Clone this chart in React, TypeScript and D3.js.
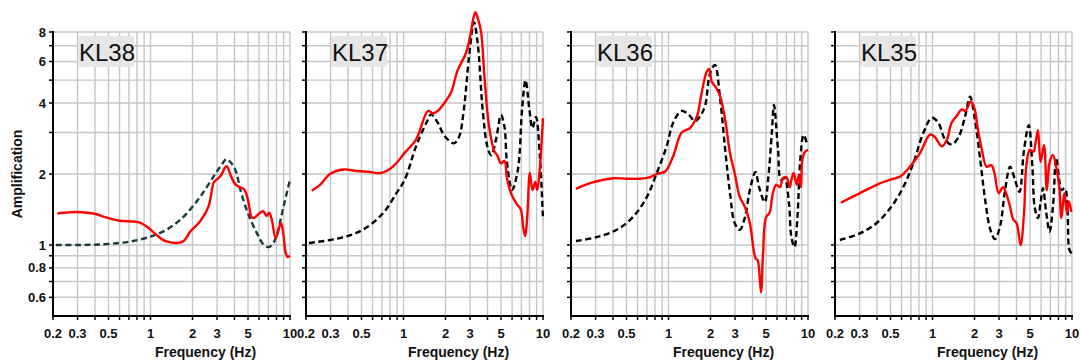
import React from 'react';
import * as d3 from 'd3';

type Pt = [number, number];

const stations = ['KL38', 'KL37', 'KL36', 'KL35'];

const xGrid = [0.2, 0.3, 0.4, 0.5, 0.6, 0.7, 0.8, 0.9, 1, 2, 3, 4, 5, 6, 7, 8, 9, 10];
const xLabels = [0.2, 0.3, 0.5, 1, 2, 3, 5, 10];
const yGrid = [0.6, 0.7, 0.8, 0.9, 1, 2, 3, 4, 5, 6, 7, 8];
const yLabels = [0.6, 0.8, 1, 2, 4, 6, 8];

// observed (red) amplification
const kl38Obs: Pt[] = [[0.215,1.36],[0.295,1.38],[0.39,1.36],[0.48,1.31],[0.59,1.27],[0.84,1.245],[0.97,1.18],[1.11,1.1],[1.27,1.04],[1.55,1.02],[1.73,1.04],[1.93,1.14],[2.27,1.26],[2.61,1.46],[2.84,1.84],[3.0,1.9],[3.2,1.97],[3.4,2.12],[3.52,2.16],[3.7,2.02],[3.95,1.85],[4.2,1.78],[4.7,1.72],[5.0,1.55],[5.4,1.3],[6.4,1.39],[6.8,1.33],[7.1,1.37],[7.4,1.28],[7.9,1.07],[8.6,1.24],[8.9,1.15],[9.3,0.93],[9.6,0.89],[10,0.9]];
const kl37Obs: Pt[] = [[0.22,1.7],[0.252,1.8],[0.297,2.0],[0.37,2.09],[0.46,2.06],[0.573,2.04],[0.69,2.02],[0.84,2.15],[1.02,2.46],[1.23,2.8],[1.5,3.7],[1.62,3.62],[1.76,3.7],[2.02,4.1],[2.2,4.45],[2.44,5.5],[2.8,6.5],[3.03,7.9],[3.15,9.0],[3.27,9.7],[3.4,9.2],[3.6,8.0],[3.8,5.2],[4.1,3.2],[4.48,2.5],[4.7,2.4],[5.0,2.22],[5.3,2.27],[5.5,1.94],[5.89,1.66],[6.4,1.51],[6.94,1.41],[7.2,1.2],[7.45,1.09],[7.7,1.3],[8.05,2.02],[8.4,1.71],[8.8,1.85],[9.1,1.71],[9.5,2.14],[10,3.45]];
const kl36Obs: Pt[] = [[0.217,1.73],[0.274,1.83],[0.341,1.89],[0.403,1.92],[0.502,1.91],[0.626,1.91],[0.738,1.94],[0.824,2.0],[0.946,2.05],[1.08,2.38],[1.24,2.99],[1.43,3.14],[1.6,3.52],[1.73,4.43],[1.88,5.43],[1.96,5.57],[2.04,4.93],[2.2,4.63],[2.35,4.25],[2.55,3.39],[2.76,2.45],[2.98,2.02],[3.24,1.6],[3.53,1.45],[3.83,1.24],[4.2,0.88],[4.36,0.86],[4.6,0.63],[4.75,0.89],[5.0,1.31],[5.3,1.37],[5.6,1.66],[5.9,1.8],[6.3,1.76],[6.6,1.92],[7.0,1.94],[7.4,1.76],[7.6,1.89],[7.9,2.02],[8.3,1.8],[8.6,1.98],[8.9,1.76],[9.1,2.29],[9.5,2.48],[10,2.53]];
const kl35Obs: Pt[] = [[0.22,1.51],[0.302,1.66],[0.398,1.8],[0.496,1.89],[0.586,1.95],[0.69,2.15],[0.815,2.46],[0.96,2.94],[1.04,2.87],[1.17,2.62],[1.27,2.8],[1.37,3.3],[1.49,3.52],[1.62,3.76],[1.71,3.7],[1.89,4.05],[2.0,3.8],[2.1,3.17],[2.26,2.53],[2.44,2.15],[2.64,2.18],[2.78,2.02],[2.98,1.66],[3.2,1.76],[3.4,1.63],[3.57,1.48],[3.8,1.28],[4.0,1.24],[4.28,1.0],[4.53,1.37],[4.7,2.15],[4.98,2.53],[5.3,2.49],[5.47,2.7],[5.7,3.07],[5.95,2.25],[6.3,2.65],[6.6,1.71],[6.9,2.23],[7.3,2.41],[7.7,2.15],[8.1,1.77],[8.4,1.3],[8.8,1.66],[9.2,1.37],[9.5,1.53],[9.9,1.38]];

// theoretical (dashed) amplification
const kl38Model: Pt[] = [[0.21,1.0],[0.3,1.0],[0.43,1.005],[0.6,1.02],[0.75,1.04],[1.0,1.085],[1.3,1.16],[1.73,1.32],[2.27,1.6],[2.83,1.95],[3.2,2.17],[3.5,2.31],[3.8,2.22],[4.1,2.05],[4.4,1.72],[5.0,1.36],[5.8,1.12],[6.5,1.0],[7.05,0.98],[7.6,1.02],[8.1,1.12],[9.0,1.46],[10,1.89]];
const kl37Model: Pt[] = [[0.21,1.02],[0.35,1.07],[0.51,1.16],[0.71,1.36],[0.89,1.66],[1.02,1.89],[1.23,2.62],[1.46,3.3],[1.58,3.58],[1.76,3.3],[1.97,2.9],[2.3,2.7],[2.5,2.87],[2.7,3.7],[2.96,6.4],[3.2,8.8],[3.4,7.2],[3.7,3.7],[4.0,2.6],[4.25,2.4],[4.6,2.79],[5.0,3.56],[5.3,3.16],[5.5,2.29],[6.0,1.71],[6.6,2.08],[7.1,3.85],[7.5,5.0],[8.0,3.73],[8.4,3.13],[8.9,3.49],[9.5,2.36],[10,1.28]];
const kl36Model: Pt[] = [[0.217,1.04],[0.305,1.08],[0.425,1.16],[0.56,1.32],[0.7,1.6],[0.824,2.02],[0.97,2.62],[1.08,3.3],[1.24,3.7],[1.39,3.58],[1.55,3.35],[1.7,3.55],[1.83,3.9],[1.98,5.3],[2.15,5.8],[2.35,4.12],[2.55,2.53],[2.76,1.66],[2.98,1.24],[3.24,1.16],[3.53,1.31],[3.83,1.71],[4.2,2.04],[4.46,1.76],[4.9,1.52],[5.2,1.94],[5.5,2.98],[5.7,3.92],[6.1,2.53],[6.4,1.89],[6.8,1.92],[7.3,1.51],[7.6,1.08],[8.0,0.98],[8.4,1.31],[8.8,2.29],[9.3,2.93],[9.9,2.65]];
const kl35Model: Pt[] = [[0.217,1.05],[0.302,1.12],[0.398,1.24],[0.51,1.46],[0.62,1.77],[0.73,2.23],[0.86,2.99],[0.99,3.46],[1.1,3.3],[1.23,2.8],[1.37,2.67],[1.53,2.85],[1.71,3.5],[1.86,4.25],[2.0,3.5],[2.2,2.29],[2.4,1.51],[2.6,1.16],[2.8,1.06],[3.05,1.2],[3.3,1.68],[3.6,2.15],[3.9,1.89],[4.2,1.68],[4.53,2.53],[4.9,3.22],[5.2,2.15],[5.4,1.45],[5.7,1.3],[5.95,1.51],[6.2,1.74],[6.5,1.41],[6.9,1.14],[7.3,1.45],[7.7,2.34],[8.1,1.89],[8.4,1.71],[8.9,1.74],[9.3,1.37],[9.6,0.95],[10,0.92]];

const observed = [kl38Obs, kl37Obs, kl36Obs, kl35Obs];
const models = [kl38Model, kl37Model, kl36Model, kl35Model];
const modelColors = ['#1b3c3c', '#000000', '#000000', '#000000'];

const panelLefts = [53, 306, 571, 835];
const PW = 237;
const TOP = 32;
const BOTTOM = 316;
const FONT = 'Arial, "Liberation Sans", Helvetica, sans-serif';

function Panel({ idx }: { idx: number }) {
  const left = panelLefts[idx];
  const x = d3.scaleLog().domain([0.2, 10]).range([left, left + PW]);
  const y = d3.scaleLog().domain([0.5, 8]).range([BOTTOM, TOP]);
  const line = d3
    .line<Pt>()
    .x((d) => x(d[0]))
    .y((d) => y(d[1]))
    .curve(d3.curveCatmullRom.alpha(0.5));
  const gridColor = '#c6c6c6';
  return (
    <g>
      {xGrid.map((v) => (
        <line key={'xg' + v} x1={x(v)} x2={x(v)} y1={TOP} y2={BOTTOM} stroke={gridColor} strokeWidth={1.4} />
      ))}
      {yGrid.map((v) => (
        <line key={'yg' + v} x1={left} x2={left + PW} y1={y(v)} y2={y(v)} stroke={gridColor} strokeWidth={1.4} />
      ))}
      <rect x={left + 25} y={36} width={56} height={31} fill="#e6e6e6" />
      <text x={left + 26} y={61} fontFamily={FONT} fontSize={24} fill="#111">
        {stations[idx]}
      </text>
      {/* axes */}
      <line x1={left} x2={left} y1={TOP - 1} y2={BOTTOM + 1} stroke="#000" strokeWidth={2} />
      <line x1={left - 1} x2={left + PW + 1} y1={BOTTOM} y2={BOTTOM} stroke="#000" strokeWidth={2} />
      {yGrid.map((v) => (
        <line key={'yt' + v} x1={left - 4} x2={left} y1={y(v)} y2={y(v)} stroke="#000" strokeWidth={1.5} />
      ))}
      {xGrid.map((v) => (
        <line key={'xt' + v} x1={x(v)} x2={x(v)} y1={BOTTOM} y2={BOTTOM + 4} stroke="#000" strokeWidth={1.5} />
      ))}
      {idx === 0 &&
        yLabels.map((v) => (
          <text key={'yl' + v} x={left - 7} y={y(v) + 4.5} textAnchor="end" fontFamily={FONT} fontWeight="bold" fontSize={13} fill="#111">
            {String(v)}
          </text>
        ))}
      {xLabels.map((v) => (
        <text key={'xl' + v} x={x(v)} y={338} textAnchor="middle" fontFamily={FONT} fontWeight="bold" fontSize={13} fill="#111">
          {String(v)}
        </text>
      ))}
      <text x={left + PW / 2 + 34} y={357} textAnchor="middle" fontFamily={FONT} fontWeight="bold" fontSize={14} fill="#111">
        Frequency (Hz)
      </text>
      <path d={line(models[idx]) || ''} fill="none" stroke={modelColors[idx]} strokeWidth={2.4} strokeDasharray="6,3.5" />
      <path d={line(observed[idx]) || ''} fill="none" stroke="#ff0000" strokeWidth={2.4} strokeLinejoin="round" />
    </g>
  );
}

export default function App() {
  return (
    <svg width={1081} height={362} style={{ position: 'absolute', left: 0, top: 0, background: '#fff' }}>
      <rect x={0} y={0} width={1081} height={362} fill="#fff" />
      {stations.map((s, i) => (
        <Panel key={s} idx={i} />
      ))}
      <text
        transform="translate(22,174) rotate(-90)"
        textAnchor="middle"
        fontFamily={FONT}
        fontWeight="bold"
        fontSize={14}
        fill="#111"
      >
        Amplification
      </text>
    </svg>
  );
}
